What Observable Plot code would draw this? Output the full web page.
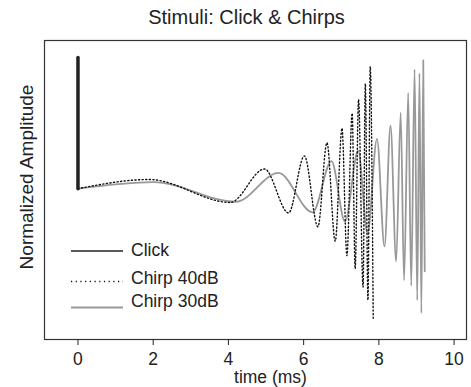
<!DOCTYPE html>
<html>
<head>
<meta charset="utf-8">
<script src="https://cdn.jsdelivr.net/npm/d3@7"></script>
<script src="https://cdn.jsdelivr.net/npm/@observablehq/plot@0.6"></script>
<style>
  body { margin: 0; background: #fff; font-family: "Liberation Sans", Arial, sans-serif; }
  #wrap { position: relative; width: 471px; height: 387px; }
  #title { height: 34px; line-height: 34px; font-size: 20px; color: #222; text-align: center; padding-left: 22px; box-sizing: border-box; }
  #legend { position: absolute; left: 0; top: 0; }
</style>
</head>
<body>
<div id="wrap">
  <div id="title">Stimuli: Click &amp; Chirps</div>
  <div id="chart"></div>
  <svg id="legend" width="471" height="387"></svg>
</div>
<script>
// ---- data ----
const clickTime = [0, 0];
const clickAmp  = [0, 1];

// Chirp 40dB: extrema (time ms, normalized amplitude)
const chirp40Time = [0, 1.9, 4.05, 4.96, 5.6, 6.02, 6.38, 6.62, 6.84, 7.02, 7.15, 7.29, 7.37, 7.46, 7.58, 7.64, 7.71, 7.77, 7.85];
const chirp40Amp  = [0, 0.07, -0.105, 0.15, -0.185, 0.25, -0.29, 0.35, -0.40, 0.46, -0.51, 0.575, -0.61, 0.68, -0.75, 0.80, -0.85, 0.93, -0.995];

// Chirp 30dB: extrema (time ms, normalized amplitude)
const chirp30Time = [0, 2.0, 4.2, 5.33, 6.24, 6.74, 7.1, 7.45, 7.7, 7.95, 8.15, 8.31, 8.46, 8.58, 8.67, 8.78, 8.86, 8.95, 9.02, 9.08, 9.13, 9.18, 9.22];
const chirp30Amp  = [0, 0.05, -0.10, 0.12, -0.18, 0.21, -0.25, 0.29, -0.34, 0.38, -0.44, 0.48, -0.555, 0.58, -0.70, 0.73, -0.74, 0.91, -0.85, 0.88, -0.95, 0.98, -0.63];

const xTicks = [0, 2, 4, 6, 8, 10];
const seriesNames = ["Click", "Chirp 40dB", "Chirp 30dB"];
const xLabel = "time (ms)";
const yLabel = "Normalized Amplitude";

const toRows = (ts, as) => ts.map((t, i) => ({t, a: as[i]}));
const click = toRows(clickTime, clickAmp);
const c40 = toRows(chirp40Time, chirp40Amp);
const c30 = toRows(chirp30Time, chirp30Amp);

const plot = Plot.plot({
  width: 471,
  height: 353,
  marginTop: 6,
  marginBottom: 48,
  marginLeft: 44,
  marginRight: 5,
  style: {fontFamily: "'Liberation Sans', Arial, sans-serif", fontSize: "17.5px", color: "#222", background: "transparent"},
  x: {domain: [-0.89, 10.33]},
  y: {domain: [-1.15, 1.13]},
  marks: [
    Plot.line(c30, {x: "t", y: "a", stroke: "#999", strokeWidth: 1.8, curve: "monotone-x"}),
    Plot.line(c40, {x: "t", y: "a", stroke: "#111", strokeWidth: 1.4, strokeDasharray: "1.2,2.4", curve: "monotone-x"}),
    Plot.line(click, {x: "t", y: "a", stroke: "#222", strokeWidth: 3.5}),
    Plot.frame({stroke: "#333", strokeWidth: 1.2}),
    Plot.axisX({ticks: xTicks, tickSize: 6, tickPadding: 7, label: null, tickFormat: d3.format("d")}),
    Plot.axisY({ticks: [], label: null}),
    Plot.text([xLabel], {text: d => d, frameAnchor: "bottom", textAnchor: "middle", lineAnchor: "middle", dx: 15, dy: 38, fontSize: 17.5}),
    Plot.text([yLabel], {text: d => d, frameAnchor: "left", textAnchor: "middle", lineAnchor: "middle", rotate: -90, dx: -18, dy: -13, fontSize: 19})
  ]
});
document.getElementById("chart").appendChild(plot);

// legend overlay
const lg = d3.select("#legend");
const legendStyles = [
  {stroke: "#222", width: 1.5, dash: null},
  {stroke: "#111", width: 1.5, dash: "1.2,3.5"},
  {stroke: "#999", width: 2, dash: null}
];
const lineY = [251, 281.5, 307.5];
const textY = [250, 278, 301];
seriesNames.forEach((name, i) => {
  lg.append("line").attr("x1", 71).attr("x2", 123).attr("y1", lineY[i]).attr("y2", lineY[i])
    .attr("stroke", legendStyles[i].stroke).attr("stroke-width", legendStyles[i].width)
    .attr("stroke-dasharray", legendStyles[i].dash);
  lg.append("text").attr("x", 131).attr("y", textY[i]).attr("dy", "0.35em")
    .attr("font-size", 17.5).attr("fill", "#222")
    .attr("font-family", "'Liberation Sans', Arial, sans-serif").text(name);
});
</script>
</body>
</html>
